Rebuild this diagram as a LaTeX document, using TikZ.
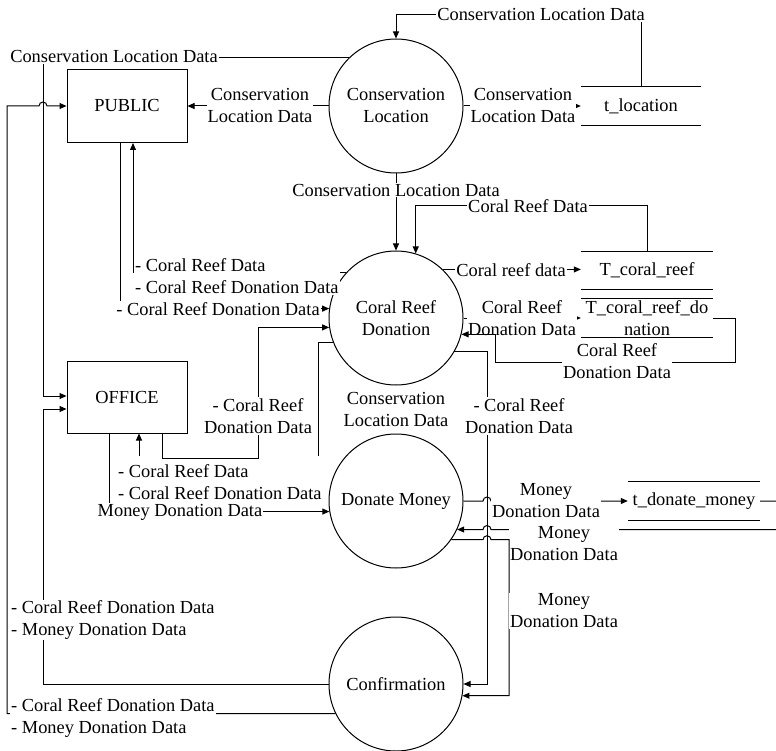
\documentclass[tikz,border=0pt]{standalone}
\usepackage{fontspec}
\setmainfont{Liberation Serif}
\usetikzlibrary{arrows.meta, positioning}

\begin{document}
\begin{tikzpicture}[
    x=1pt, y=-1pt,
    font=\fontsize{18.4}{22}\selectfont,
    process/.style={draw, line width=1pt, circle, minimum size=134pt, inner sep=0pt, align=center},
    entity/.style={draw, line width=1pt, minimum width=120pt, minimum height=73pt, inner sep=0pt},
    store/.style={minimum height=38pt, inner sep=0pt, align=center},
    lbl/.style={fill=white, inner sep=1pt, align=center},
    lbll/.style={lbl, anchor=west, align=left},
    arrow/.style={-{Triangle[length=7pt, width=6pt]}, line width=1pt}
]
    \useasboundingbox (0,0) rectangle (776,751);

    % Processes
    \node[process] (cl) at (396,106) {Conservation\\Location};
    \node[process] (crd) at (396,318) {Coral Reef\\Donation};
    \node[process] (dm) at (396,501) {Donate Money};
    \node[process] (cf) at (396,684) {Confirmation};

    % Entities
    \node[entity] (public) at (127,106) {PUBLIC};
    \node[entity, minimum height=72pt] (office) at (127,397) {OFFICE};

    % Data stores
    \node[store, minimum width=120pt, minimum height=39pt] (tloc) at (641,106) {t\_location};
    \node[store, minimum width=132pt, minimum height=37pt] (tcr) at (647,270.5) {T\_coral\_reef};
    \node[store, minimum width=132pt] (tcrd) at (647,318) {T\_coral\_reef\_do\\nation};
    \node[store, minimum width=132pt] (tdm) at (694,501) {t\_donate\_money};

    % Conservation Location flows
    \draw[arrow] (tloc.north) |- (cl.north |- 0,15) -- (cl.north);
    \node[lbl] (l-tloc-cl) at (541,15) {Conservation Location Data};
    \draw[arrow] (cl.west) -- (public.east);
    \node[lbl] (l-cl-pub) at (260,106) {Conservation\\Location Data};
    \draw[arrow] (cl.east) -- (tloc.west);
    \node[lbl] (l-cl-tloc) at (523,106) {Conservation\\Location Data};
    \draw[arrow] (cl.134) -| (43,396) -- (office.west |- 0,396);
    \node[lbl] (l-cl-off) at (114,57) {Conservation Location Data};
    \draw[arrow] (cl.south) -- (crd.north);
    \node[lbl] (l-cl-crd) at (396,190) {Conservation Location Data};

    % Coral Reef Donation flows
    \draw[arrow] (tcr.north) |- (crd.73 |- 0,206) -- (crd.73);
    \node[lbl] (l-tcr-crd) at (528,206) {Coral Reef Data};
    \draw[arrow] (crd.46) -- (crd.46 -| tcr.west);
    \node[lbl] (l-crd-tcr) at (511,270) {Coral reef data};
    \draw[arrow] (crd.east) -- (tcrd.west);
    \node[lbl] (l-crd-tcrd) at (522,318) {Coral Reef\\Donation Data};
    \draw[arrow] (tcrd.east) -- (735,318) |- (495,362) |- (crd.-14);
    \node[lbl] (l-tcrd-crd) at (617,361) {Coral Reef\\Donation Data};
    \draw[arrow] (crd.138) -| ([xshift=6pt]public.south);
    \node[lbll] (l-crd-pub) at (134,276) {- Coral Reef Data\\- Coral Reef Donation Data};
    \draw[arrow] ([xshift=-7pt]public.south) |- (crd.172);
    \node[lbl] (l-pub-crd) at (218,309) {- Coral Reef Donation Data};

    % Office flows
    \draw[arrow] (crd.201) -| (318,458) -| ([xshift=12pt]office.south);
    \node[lbll, inner ysep=8pt] (l-crd-off) at (117,482) {- Coral Reef Data\\- Coral Reef Donation Data};
    \draw[arrow] ([xshift=35pt]office.south) |- (258,458) |- (crd.188);
    \node[lbl] (l-off-crd) at (258,416) {- Coral Reef\\Donation Data};
    \draw[arrow] ([xshift=-18pt]office.south) |- (dm.189);
    \node[lbl] (l-off-dm) at (180,512) {Money Donation Data};
    \node[lbl] (l-crd-dm) at (396,409) {Conservation\\Location Data};

    % Confirmation flows
    \draw[arrow] (crd.-30) -| (487,684) -- (cf.east);
    \node[lbl] (l-crd-cf) at (519,416) {- Coral Reef\\Donation Data};
    \draw[arrow] (cf.west) -| (43,409) -- (office.west |- 0,409);
    \node[lbll] (l-cf-off) at (10,620) {- Coral Reef Donation Data\\- Money Donation Data};
    \draw[arrow] (cf.206) -| (7,106) -- (39,106) arc[start angle=180, end angle=0, radius=4pt] -- (public.west);
    \node[lbll] (l-cf-pub) at (10,718) {- Coral Reef Donation Data\\- Money Donation Data};

    % Donate Money flows
    \draw[arrow] (dm.east) -- (dm.east -| 483,0) arc[start angle=180, end angle=0, radius=4pt] -- (tdm.west);
    \node[lbl] (l-dm-tdm) at (546,501) {Money\\Donation Data};
    \draw[arrow] (tdm.east) -- (779,501) |- (dm.-25 -| 491,0) arc[start angle=0, end angle=180, radius=4pt] -- (dm.-25);
    \node[lbl] (l-tdm-dm) at (564,544) {Money\\Donation Data};
    \draw[arrow] (dm.-35) -- (dm.-35 -| 483,0) arc[start angle=180, end angle=0, radius=4pt] -- (dm.-35 -| 509,0) |- (cf.-10);
    \node[lbl] (l-dm-cf) at (564,611) {Money\\Donation Data};

    % store lines
    \foreach \s in {tloc, tcr, tcrd, tdm}
        \draw[line width=1pt] (\s.north west) -- (\s.north east) (\s.south west) -- (\s.south east);
\end{tikzpicture}
\end{document}
